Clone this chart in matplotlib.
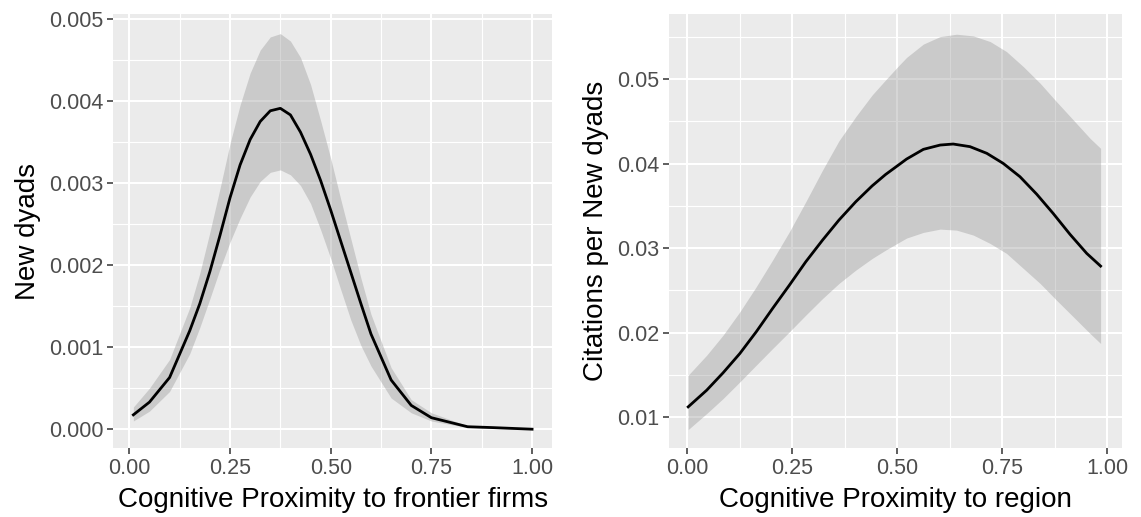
import numpy as np
import matplotlib
matplotlib.use("Agg")
import matplotlib.pyplot as plt
from matplotlib.ticker import MultipleLocator, FixedLocator

plt.rcParams['font.family'] = ['Liberation Sans', 'DejaVu Sans']

# left panel: new dyads vs proximity to frontier firms
firm_x = [0.01, 0.05, 0.1, 0.15, 0.175, 0.2, 0.225, 0.25, 0.275, 0.3, 0.325, 0.35,
          0.375, 0.4, 0.425, 0.45, 0.475, 0.5, 0.525, 0.55, 0.575, 0.6, 0.65,
          0.7, 0.75, 0.84, 0.9, 1.0]
firm_fit = [0.000175, 0.00033, 0.00063, 0.0012, 0.00153, 0.00192, 0.00236, 0.00282,
            0.00322, 0.00353, 0.00375, 0.00388, 0.00391, 0.00383, 0.00362, 0.00335,
            0.00303, 0.00267, 0.00229, 0.00191, 0.00153, 0.00116, 0.0006, 0.00029,
            0.00014, 0.00003, 0.00002, 0.0]
firm_hi = [0.00027, 0.0005, 0.00085, 0.00148, 0.0019, 0.0024, 0.00293, 0.00348,
           0.00395, 0.00434, 0.00462, 0.00478, 0.00482, 0.00473, 0.00453, 0.0042,
           0.00376, 0.0033, 0.0028, 0.00232, 0.00184, 0.0014, 0.00075, 0.00036,
           0.0002, 0.00004, 0.00002, 0.0]
firm_lo = [0.0001, 0.00022, 0.00046, 0.00092, 0.00124, 0.00159, 0.00195, 0.00228,
           0.00257, 0.00283, 0.00302, 0.00313, 0.00316, 0.0031, 0.00297, 0.00275,
           0.00243, 0.00208, 0.0017, 0.00133, 0.00102, 0.00077, 0.00038, 0.0002,
           0.0001, 0.00002, 0.00001, 0.0]

# right panel: citations per new dyad vs proximity to region
reg_x = [0.002, 0.046, 0.085, 0.125, 0.164, 0.203, 0.243, 0.282, 0.322, 0.361,
         0.401, 0.44, 0.472, 0.503, 0.522, 0.562, 0.602, 0.633, 0.673, 0.713,
         0.752, 0.792, 0.832, 0.871, 0.911, 0.951, 0.984]
reg_fit = [0.01119, 0.01316, 0.01522, 0.01751, 0.02008, 0.02285, 0.02561, 0.02838,
           0.03095, 0.03332, 0.03549, 0.03737, 0.03872, 0.03985, 0.04055, 0.0417,
           0.04221, 0.04233, 0.04202, 0.04123, 0.04004, 0.03846, 0.03638, 0.03411,
           0.03164, 0.02937, 0.02787]

band_x = [0.002, 0.046, 0.085, 0.125, 0.164, 0.203, 0.243, 0.282, 0.322, 0.361,
          0.401, 0.44, 0.472, 0.503, 0.522, 0.562, 0.602, 0.641, 0.681, 0.721,
          0.76, 0.8, 0.84, 0.879, 0.919, 0.959, 0.984]
reg_hi = [0.01494, 0.01731, 0.01968, 0.02245, 0.02542, 0.02858, 0.03194, 0.03549,
          0.03925, 0.04271, 0.04557, 0.04814, 0.04992, 0.0516, 0.05259, 0.05417,
          0.05506, 0.05534, 0.05514, 0.05447, 0.05328, 0.0515, 0.04953, 0.04735,
          0.04518, 0.043, 0.04182]
reg_lo = [0.0085, 0.0104, 0.01217, 0.01415, 0.01613, 0.0181, 0.02008, 0.02206,
          0.02403, 0.02581, 0.02739, 0.02877, 0.02976, 0.03065, 0.03119, 0.03186,
          0.03225, 0.03213, 0.03154, 0.03055, 0.02937, 0.02759, 0.02581, 0.02383,
          0.02186, 0.01988, 0.0187]

x_ticks = [0.0, 0.25, 0.5, 0.75, 1.0]
x_labels = ['0.00', '0.25', '0.50', '0.75', '1.00']


def gg_panel(ax, yticks, ylabels, yminor, xlabel, ylabel):
    ax.set_facecolor('#EBEBEB')
    for s in ax.spines.values():
        s.set_visible(False)
    ax.set_xticks(x_ticks)
    ax.set_xticklabels(x_labels)
    ax.set_yticks(yticks)
    ax.set_yticklabels(ylabels)
    ax.xaxis.set_minor_locator(MultipleLocator(0.125))
    ax.yaxis.set_minor_locator(FixedLocator(yminor))
    ax.grid(which='major', color='white', linewidth=1.5)
    ax.grid(which='minor', color='white', linewidth=0.8)
    ax.set_axisbelow(True)
    ax.tick_params(which='major', length=4, width=1.1, color='#333333',
                   labelcolor='#4D4D4D', labelsize=15.5, pad=3)
    ax.tick_params(which='minor', length=0)
    ax.set_xlabel(xlabel, fontsize=20, labelpad=6)
    ax.set_ylabel(ylabel, fontsize=20, labelpad=6)


fig = plt.figure(figsize=(11.41, 5.17), dpi=100)
ax1 = fig.add_axes([0.0994, 0.133, 0.3844, 0.84])
ax2 = fig.add_axes([0.5862, 0.133, 0.3968, 0.84])

gg_panel(ax1, [0, 0.001, 0.002, 0.003, 0.004, 0.005],
         ['0.000', '0.001', '0.002', '0.003', '0.004', '0.005'],
         [0.0005, 0.0015, 0.0025, 0.0035, 0.0045],
         'Cognitive Proximity to frontier firms', 'New dyads')
ax1.fill_between(firm_x, firm_lo, firm_hi, color='#999999', alpha=0.4, linewidth=0)
ax1.plot(firm_x, firm_fit, color='black', linewidth=2, solid_joinstyle='round')
ax1.set_xlim(-0.0395, 1.0495)
ax1.set_ylim(-0.000232, 0.00506)

gg_panel(ax2, [0.01, 0.02, 0.03, 0.04, 0.05],
         ['0.01', '0.02', '0.03', '0.04', '0.05'],
         [0.015, 0.025, 0.035, 0.045, 0.055],
         'Cognitive Proximity to region', 'Citations per New dyads')
ax2.fill_between(band_x, reg_lo, reg_hi, color='#999999', alpha=0.4, linewidth=0)
ax2.plot(reg_x, reg_fit, color='black', linewidth=2, solid_joinstyle='round')
ax2.set_xlim(-0.044, 1.034)
ax2.set_ylim(0.00629, 0.05774)

fig.savefig('out.png', dpi=100)
